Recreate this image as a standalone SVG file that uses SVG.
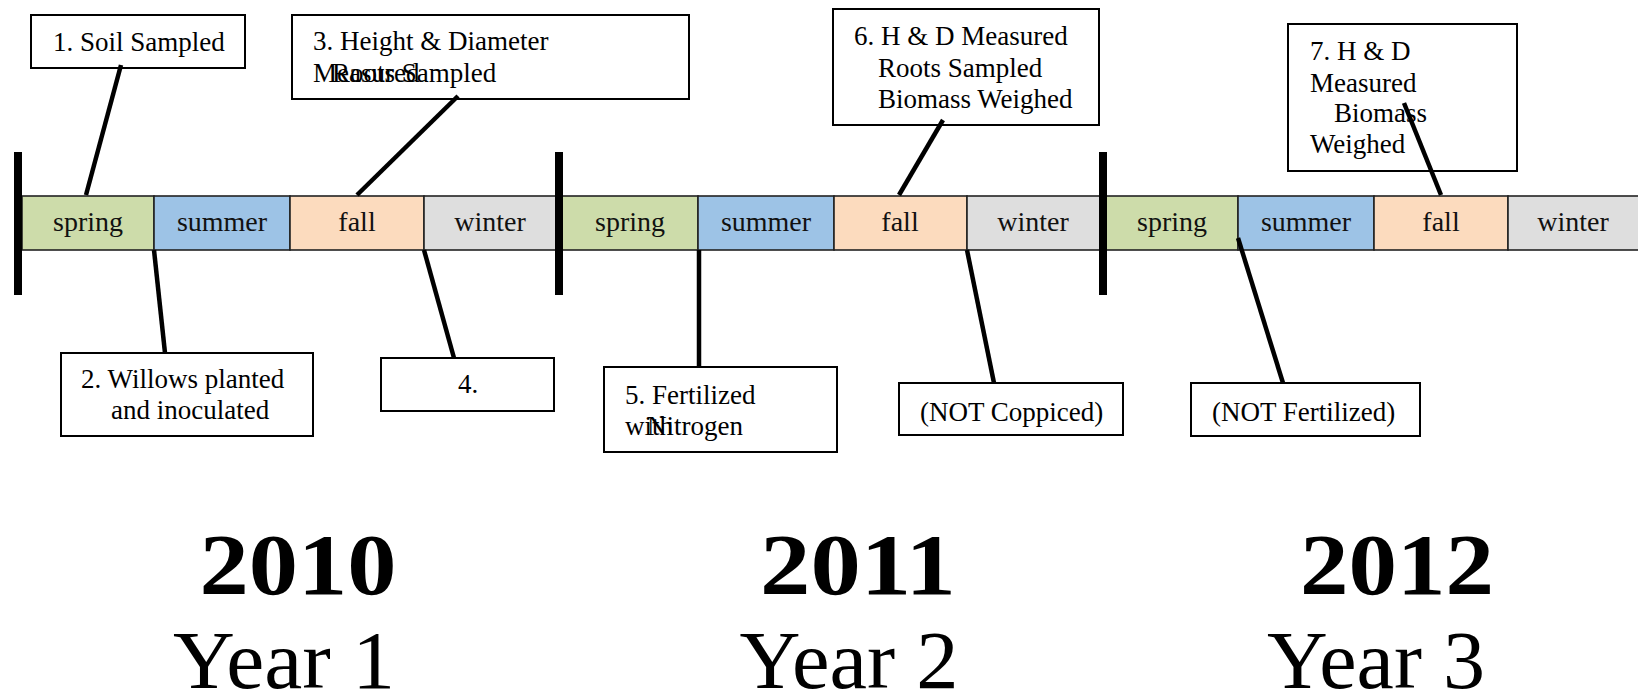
<svg xmlns="http://www.w3.org/2000/svg" width="1638" height="695" viewBox="0 0 1638 695">
<style>
.bg{fill:#ffffff}
.box{fill:#ffffff;stroke:#000;stroke-width:2}
.lbl{font-family:"Liberation Serif","Times New Roman",serif;font-size:27px;fill:#000}
.season{font-family:"Liberation Serif","Times New Roman",serif;font-size:28px;fill:#111;text-anchor:middle}
.seg{stroke:#222;stroke-width:1.6}
.spring{fill:#CDDCAA}
.summer{fill:#9DC3E6}
.fall{fill:#FCDBBE}
.winter{fill:#DEDEDE}
.sep{fill:#000}
.conn line{stroke:#000;stroke-width:4.5;stroke-linecap:butt}
.year{font-family:"Liberation Serif","Times New Roman",serif;font-weight:bold;font-size:86px;fill:#000;text-anchor:middle}
.yearn{font-family:"Liberation Serif","Times New Roman",serif;font-size:83px;fill:#000;text-anchor:middle}
</style>
<rect class="bg" x="0" y="0" width="1638" height="695"/>
<g id="timeline">
<rect class="seg spring" x="22" y="196" width="132" height="54"/>
<rect class="seg summer" x="154" y="196" width="136" height="54"/>
<rect class="seg fall" x="290" y="196" width="134" height="54"/>
<rect class="seg winter" x="424" y="196" width="135" height="54"/>
<rect class="seg spring" x="559" y="196" width="139" height="54"/>
<rect class="seg summer" x="698" y="196" width="136" height="54"/>
<rect class="seg fall" x="834" y="196" width="133" height="54"/>
<rect class="seg winter" x="967" y="196" width="136" height="54"/>
<rect class="seg spring" x="1103" y="196" width="135" height="54"/>
<rect class="seg summer" x="1238" y="196" width="136" height="54"/>
<rect class="seg fall" x="1374" y="196" width="134" height="54"/>
<rect class="seg winter" x="1508" y="196" width="140" height="54"/>
<text class="season" x="88" y="231">spring</text>
<text class="season" x="222" y="231">summer</text>
<text class="season" x="357" y="231">fall</text>
<text class="season" x="490" y="231">winter</text>
<text class="season" x="630" y="231">spring</text>
<text class="season" x="766" y="231">summer</text>
<text class="season" x="900" y="231">fall</text>
<text class="season" x="1033" y="231">winter</text>
<text class="season" x="1172" y="231">spring</text>
<text class="season" x="1306" y="231">summer</text>
<text class="season" x="1441" y="231">fall</text>
<text class="season" x="1573" y="231">winter</text>
<rect class="sep" x="14" y="152" width="8" height="143"/>
<rect class="sep" x="555" y="152" width="8" height="143"/>
<rect class="sep" x="1099" y="152" width="8" height="143"/>
</g>
<g id="n1"><rect class="box" x="31" y="15" width="214" height="53"/><text class="lbl" x="53" y="51">1. Soil Sampled</text></g>
<g id="n3"><rect class="box" x="292" y="15" width="397" height="84"/><text class="lbl" x="313" y="50">3. Height &amp; Diameter</text><text class="lbl" x="313" y="82">Measured</text><text class="lbl" x="332" y="82">Roots Sampled</text></g>
<g id="n6"><rect class="box" x="833" y="9" width="266" height="116"/><text class="lbl" x="854" y="45">6. H &amp; D Measured</text><text class="lbl" x="878" y="77">Roots Sampled</text><text class="lbl" x="878" y="108">Biomass Weighed</text></g>
<g id="n7"><rect class="box" x="1288" y="24" width="229" height="147"/><text class="lbl" x="1310" y="60">7. H &amp; D</text><text class="lbl" x="1310" y="92">Measured</text><text class="lbl" x="1334" y="122">Biomass</text><text class="lbl" x="1310" y="153">Weighed</text></g>
<g id="n2"><rect class="box" x="61" y="353" width="252" height="83"/><text class="lbl" x="81" y="388">2. Willows planted</text><text class="lbl" x="111" y="419">and inoculated</text></g>
<g id="n4"><rect class="box" x="381" y="358" width="173" height="53"/><text class="lbl" x="458" y="393">4.</text></g>
<g id="n5"><rect class="box" x="604" y="367" width="233" height="85"/><text class="lbl" x="625" y="404">5. Fertilized</text><text class="lbl" x="625" y="435">with</text><text class="lbl" x="647" y="435">Nitrogen</text></g>
<g id="nNC"><rect class="box" x="899" y="383" width="224" height="52"/><text class="lbl" x="920" y="421">(NOT Coppiced)</text></g>
<g id="nNF"><rect class="box" x="1191" y="383" width="229" height="53"/><text class="lbl" x="1212" y="421">(NOT Fertilized)</text></g>
<g id="connectors" class="conn">
<line x1="121" y1="65" x2="86" y2="195"/>
<line x1="154" y1="250" x2="165" y2="353"/>
<line x1="458" y1="96" x2="357" y2="195"/>
<line x1="424" y1="250" x2="454" y2="358"/>
<line x1="699" y1="250" x2="699" y2="367"/>
<line x1="943" y1="120" x2="899" y2="195"/>
<line x1="967" y1="250" x2="994" y2="383"/>
<line x1="1238" y1="238" x2="1283" y2="383"/>
<line x1="1404" y1="103" x2="1441" y2="195"/>
</g>
<g id="years">
<text class="year" x="298" y="594" textLength="197" lengthAdjust="spacingAndGlyphs">2010</text>
<text class="yearn" x="284" y="688" textLength="222" lengthAdjust="spacingAndGlyphs">Year 1</text>
<text class="year" x="858" y="594" textLength="196" lengthAdjust="spacingAndGlyphs">2011</text>
<text class="yearn" x="849" y="688" textLength="219" lengthAdjust="spacingAndGlyphs">Year 2</text>
<text class="year" x="1397" y="594" textLength="194" lengthAdjust="spacingAndGlyphs">2012</text>
<text class="yearn" x="1376" y="688" textLength="218" lengthAdjust="spacingAndGlyphs">Year 3</text>
</g>
</svg>
